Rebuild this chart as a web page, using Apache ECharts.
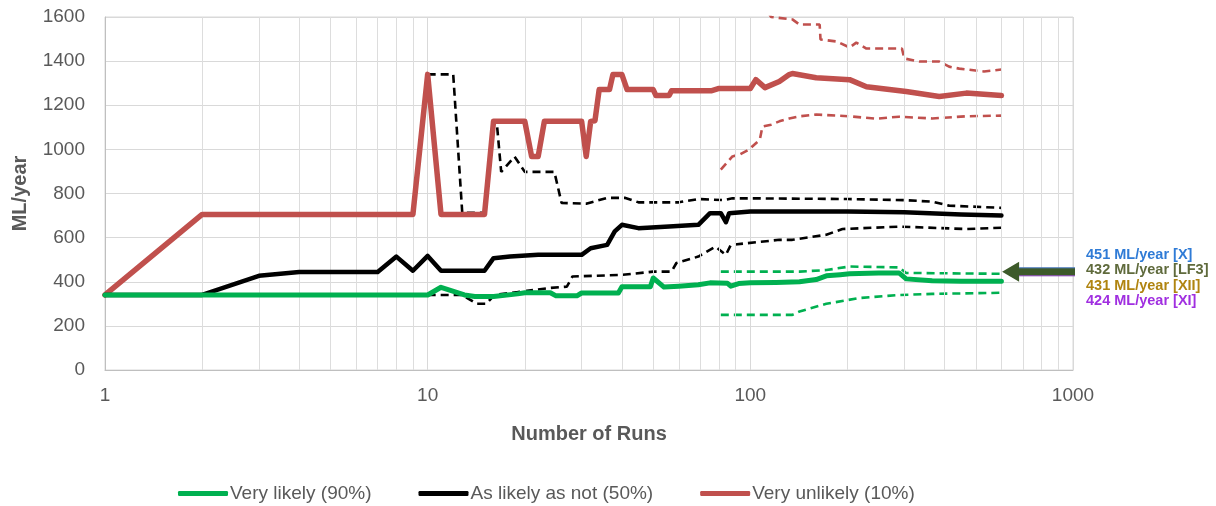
<!DOCTYPE html>
<html>
<head>
<meta charset="utf-8">
<script src="https://cdn.jsdelivr.net/npm/echarts@6/dist/echarts.min.js"></script>
<style>
html,body{margin:0;padding:0;background:#fff;}
#chart{width:1216px;height:506px;}
</style>
</head>
<body>
<div id="chart"></div>
<script>
// ---- data (x = number of runs, y = ML/year) ----
const seriesNames = ['Very likely (90%)', 'As likely as not (50%)', 'Very unlikely (10%)'];
const xTickLabels = ['1', '10', '100', '1000'];
const minorGridRuns = [2,3,4,5,6,7,8,9,20,30,40,50,60,70,80,90,200,300,400,500,600,700,800,900];

const greenSolid = [[1,340],[2,340],[3,340],[9,340],[10,340],[11,375],[13,340],[14,333],[16,333],[19,345],[20,350],[24,350],[25,336],[29,336],[30,349],[39,349],[40,377],[49,377],[50,417],[54,376],[60,380],[69,386],[75,395],[85,393],[87,380],[92,392],[100,395],[120,397],[142,400],[160,410],[172,427],[190,432],[203,436],[250,440],[289,440],[304,413],[366,404],[450,402],[600,402]];
const greenUpper = [[81,446],[142,446],[172,453],[203,469],[289,465],[304,440],[600,436]];
const greenLower = [[81,250],[135,250],[142,265],[172,300],[217,326],[289,340],[366,345],[600,350]];

const blackSolid = [[1,340],[2,340],[3,427],[4,444],[7,444],[8,514],[9,450],[10,517],[11,450],[15,450],[16,507],[18,514],[22,522],[30,522],[32,552],[36,567],[38,628],[40,658],[45,643],[56,650],[69,658],[75,711],[81,711],[84,670],[86,711],[100,718],[200,718],[300,715],[450,705],[600,700]];
const blackUpper = [[10,1340],[12,1340],[12.8,712],[15,712],[16,1127],[16.4,1110],[16.9,898],[18.6,967],[20,898],[24.7,898],[26,757],[31,754],[36,780],[41,780],[45,760],[60,760],[69,775],[83,770],[88,778],[100,778],[200,775],[300,770],[366,763],[413,745],[600,735]];
const blackLower = [[10,340],[12.8,340],[14.2,300],[15.2,300],[16.1,340],[19,353],[24,372],[27,378],[28.1,424],[40,431],[50,446],[57,446],[59,485],[69,514],[78,559],[84,522],[87,567],[123,590],[135,590],[172,613],[193,639],[290,650],[467,639],[600,645]];

const redSolid = [[1,340],[2,705],[9,705],[10,1340],[11,705],[15,705],[16,1127],[20,1127],[21,968],[22,968],[23,1127],[30,1127],[31,968],[32,1127],[33,1130],[34,1271],[36.6,1271],[37.5,1339],[40,1339],[41.5,1271],[50,1271],[51,1244],[56,1244],[57,1266],[76,1266],[80,1276],[100,1276],[104,1316],[111,1280],[123,1308],[132,1339],[135,1344],[160,1325],[203,1316],[229,1284],[304,1262],[385,1240],[467,1255],[600,1244]];
const redUpper = [[81,1900],[100,1750],[116,1600],[135,1589],[142,1566],[164,1566],[165,1498],[185,1489],[203,1462],[213,1484],[229,1457],[295,1457],[300,1412],[334,1398],[385,1398],[413,1375],[444,1366],[530,1353],[600,1362]];
const redLower = [[81,908],[88,968],[92.5,976],[99,999],[107,1044],[109,1103],[116,1112],[123,1127],[132,1140],[142,1150],[160,1158],[203,1150],[245,1139],[289,1148],[366,1140],[467,1150],[600,1153]];

const annotationTexts = ['451 ML/year [X]', '432 ML/year [LF3]', '431 ML/year [XII]', '424 ML/year [XI]'];
const annotationColors = ['#2F7BD6', '#5F6A3C', '#B08410', '#A02FE0'];
const arrowTarget = [603, 445];

// ---- chart ----
const GREEN = '#00B050', BLACK = '#000000', RED = '#C0504D';
const FONT = '"Liberation Sans", Arial, sans-serif';
const chart = echarts.init(document.getElementById('chart'));

function solid(name, data, color, width, z) {
  return { name, type: 'line', data, showSymbol: false, symbol: 'none', z,
    lineStyle: { color, width, join: 'round', cap: 'round' }, itemStyle: { color }, animation: false };
}
function dashed(name, data, color, z) {
  return { name, type: 'line', data, showSymbol: false, symbol: 'none', z,
    lineStyle: { color, width: 2.6, type: [8, 5] }, itemStyle: { color }, animation: false };
}

chart.setOption({
  animation: false,
  textStyle: { fontFamily: FONT },
  grid: { left: 105, right: 143, top: 17, bottom: 136, show: true, borderColor: '#D9D9D9', borderWidth: 1,
    containLabel: false, outerBoundsMode: 'none' },
  legend: {
    data: seriesNames, left: 173, top: 479, itemGap: 47, itemWidth: 50, itemHeight: 5, icon: 'roundRect',
    textStyle: { color: '#595959', fontSize: 19, fontFamily: FONT, padding: [0, 0, 0, -3] }
  },
  xAxis: {
    type: 'log', logBase: 10, min: 1, max: 1000,
    name: 'Number of Runs', nameLocation: 'middle', nameGap: 54,
    nameTextStyle: { color: '#595959', fontSize: 20, fontWeight: 'bold', fontFamily: FONT },
    axisLine: { show: true, lineStyle: { color: '#BFBFBF' } },
    axisTick: { show: false },
    axisLabel: { color: '#595959', fontSize: 19, margin: 16,
      formatter: v => { const i = Math.round(Math.log10(v)); return xTickLabels[i] !== undefined ? xTickLabels[i] : ''; } },
    splitLine: { show: true, lineStyle: { color: '#D9D9D9', width: 1 } },
    minorTick: { show: false }, minorSplitLine: { show: false }
  },
  yAxis: {
    type: 'value', min: 0, max: 1600, interval: 200,
    name: 'ML/year', nameLocation: 'middle', nameGap: 75, nameRotate: 90,
    nameTextStyle: { color: '#595959', fontSize: 20, fontWeight: 'bold', fontFamily: FONT },
    axisLine: { show: true, lineStyle: { color: '#BFBFBF' } },
    axisTick: { show: false },
    axisLabel: { color: '#595959', fontSize: 19, margin: 20, formatter: v => String(v) },
    splitLine: { show: true, lineStyle: { color: '#D9D9D9', width: 1 } }
  },
  series: [
    { name: 'minor grid', type: 'line', data: [], z: 0, silent: true,
      markLine: { silent: true, symbol: 'none', label: { show: false }, animation: false,
        lineStyle: { color: '#DDDDDD', width: 1, type: 'solid' },
        data: minorGridRuns.map(v => ({ xAxis: v })) } },
    dashed('Very unlikely upper', redUpper, RED, 3),
    dashed('Very unlikely lower', redLower, RED, 3),
    dashed('As likely upper', blackUpper, BLACK, 3),
    dashed('As likely lower', blackLower, BLACK, 3),
    dashed('Very likely upper', greenUpper, GREEN, 3),
    dashed('Very likely lower', greenLower, GREEN, 3),
    solid(seriesNames[2], redSolid, RED, 5.5, 5),
    solid(seriesNames[1], blackSolid, BLACK, 4.5, 6),
    solid(seriesNames[0], greenSolid, GREEN, 5, 7)
  ]
});

// ---- arrow + annotation labels (positioned from the axis scales) ----
const tip = chart.convertToPixel({ xAxisIndex: 0, yAxisIndex: 0 }, arrowTarget);
const tailX = chart.convertToPixel({ xAxisIndex: 0 }, 1000) + 2;
const headLen = 17, headHalf = 10, shaftHalf = 4;
const graphics = [
  { type: 'polygon', z: 100, shape: { points: [
      [tip[0], tip[1]], [tip[0] + headLen, tip[1] - headHalf], [tip[0] + headLen, tip[1] - shaftHalf],
      [tailX, tip[1] - shaftHalf], [tailX, tip[1] + shaftHalf], [tip[0] + headLen, tip[1] + shaftHalf],
      [tip[0] + headLen, tip[1] + headHalf] ] },
    style: { fill: '#3D5A2A' } },
  { type: 'line', z: 101, shape: { x1: tip[0] + headLen, y1: tip[1] - shaftHalf, x2: tailX, y2: tip[1] - shaftHalf },
    style: { stroke: '#4A7BC8', lineWidth: 1 } },
  { type: 'line', z: 101, shape: { x1: tip[0] + headLen, y1: tip[1] + shaftHalf, x2: tailX, y2: tip[1] + shaftHalf },
    style: { stroke: '#8E44C0', lineWidth: 1 } }
];
annotationTexts.forEach((t, i) => {
  graphics.push({ type: 'text', z: 102, x: tailX + 11, y: tip[1] - 17 + i * 15.5,
    style: { text: t, fill: annotationColors[i], font: 'bold 14.5px ' + FONT, textVerticalAlign: 'middle', textAlign: 'left' } });
});
chart.setOption({ graphic: graphics });
</script>
</body>
</html>
